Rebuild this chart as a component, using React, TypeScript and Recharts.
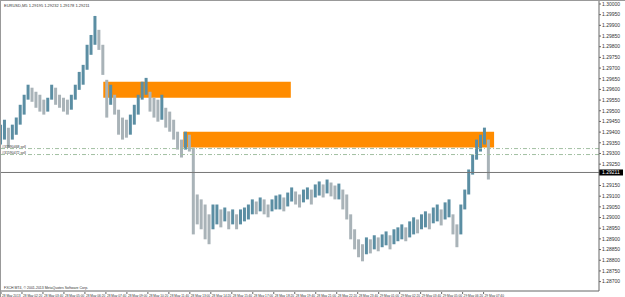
import {
  ComposedChart,
  Bar,
  Cell,
  XAxis,
  YAxis,
  ReferenceArea,
  ReferenceLine,
} from "recharts";

// 15-minute slots (every 3 M5 bars), high / low
const highs = [
  1.29435, 1.29458, 1.29421, 1.29435, 1.29468, 1.29528, 1.29575, 1.29622, 1.29608, 1.29589,
  1.29575, 1.29552, 1.29561, 1.29622, 1.29608, 1.29575, 1.29561, 1.29552, 1.29575, 1.29622,
  1.29682, 1.29715, 1.29809, 1.29855, 1.29944, 1.29879, 1.29809, 1.29645, 1.29622, 1.29575,
  1.29505, 1.29468, 1.29458, 1.29482, 1.29528, 1.29575, 1.29636, 1.29654, 1.29589, 1.29561,
  1.29552, 1.29575, 1.29514, 1.29496, 1.29458, 1.29402, 1.29365, 1.29402, 1.29388, 1.29328,
  1.29108, 1.29085, 1.29061, 1.29015, 1.29061, 1.29061, 1.29038, 1.29047, 1.29029, 1.29038,
  1.29015, 1.29038, 1.29047, 1.29061, 1.29085, 1.29075, 1.29094, 1.29085, 1.29061, 1.29085,
  1.29103, 1.29108, 1.29094, 1.29117, 1.29141, 1.29122, 1.29108, 1.29131, 1.29141, 1.29131,
  1.29155, 1.29169, 1.29155, 1.29178, 1.29164, 1.29150, 1.29159, 1.29131, 1.29108, 1.29015,
  1.28945, 1.28898, 1.28875, 1.28907, 1.28898, 1.28917, 1.28907, 1.28921, 1.28935, 1.28917,
  1.28945, 1.28954, 1.28968, 1.28954, 1.28982, 1.29001, 1.28991, 1.29015, 1.29029, 1.29019,
  1.29047, 1.29061, 1.29038, 1.29071, 1.29085, 1.29015, 1.28968, 1.29061, 1.29131, 1.29225,
  1.29295, 1.29365, 1.29388, 1.29421, 1.29365,
];
const lows = [
  1.29342, 1.29365, 1.29328, 1.29365, 1.29388, 1.29435, 1.29482, 1.29552, 1.29542, 1.29514,
  1.29496, 1.29482, 1.29496, 1.29552, 1.29528, 1.29514, 1.29496, 1.29482, 1.29505, 1.29552,
  1.29598, 1.29622, 1.29692, 1.29762, 1.29809, 1.29785, 1.29668, 1.29468, 1.29528, 1.29482,
  1.29388, 1.29365, 1.29374, 1.29388, 1.29435, 1.29482, 1.29552, 1.29575, 1.29496, 1.29468,
  1.29449, 1.29458, 1.29421, 1.29402, 1.29365, 1.29318, 1.29281, 1.29318, 1.29309, 1.28921,
  1.28968, 1.28945, 1.28898, 1.28875, 1.28945, 1.28968, 1.28954, 1.28982, 1.28945, 1.28968,
  1.28945, 1.28968, 1.28982, 1.28991, 1.29015, 1.29015, 1.29029, 1.29015, 1.29001, 1.29029,
  1.29038, 1.29038, 1.29029, 1.29052, 1.29075, 1.29061, 1.29047, 1.29071, 1.29085, 1.29061,
  1.29094, 1.29103, 1.29094, 1.29113, 1.29099, 1.29085, 1.29085, 1.29038, 1.28991, 1.28898,
  1.28851, 1.28814, 1.28795, 1.28828, 1.28832, 1.28851, 1.28842, 1.28861, 1.28870, 1.28851,
  1.28875, 1.28889, 1.28898, 1.28889, 1.28907, 1.28921, 1.28926, 1.28945, 1.28954, 1.28945,
  1.28973, 1.28982, 1.28963, 1.28991, 1.29001, 1.28921, 1.28861, 1.28921, 1.29038, 1.29108,
  1.29201, 1.29271, 1.29309, 1.29342, 1.29178,
];

// 1.29200 sits under the bid box, so it is not listed
const priceTicks = [
  1.3, 1.2995, 1.299, 1.2985, 1.298, 1.2975, 1.297, 1.2965, 1.296, 1.2955,
  1.295, 1.2945, 1.294, 1.2935, 1.293, 1.2925, 1.2915, 1.291, 1.2905,
  1.29, 1.2895, 1.289, 1.2885, 1.288, 1.2875, 1.287,
];

const timeLabels = [
  "28 May 2013", "28 May 02:20", "28 May 03:40", "28 May 05:00", "28 May 06:20",
  "28 May 07:40", "28 May 09:00", "28 May 10:20", "28 May 11:40", "28 May 13:00",
  "28 May 14:20", "28 May 15:40", "28 May 17:00", "28 May 18:20", "28 May 19:40",
  "28 May 21:00", "28 May 22:20", "28 May 23:40", "29 May 01:00", "29 May 02:20",
  "29 May 03:40", "29 May 05:00", "29 May 06:20", "29 May 07:40",
];

const zones = [
  { from: 78, to: 221, top: 1.29636, bottom: 1.29561 },
  { from: 139, to: 376, top: 1.29402, bottom: 1.29328 },
];
const orders = [
  { price: 1.29323, label: "#31590468 sell" },
  { price: 1.29295, label: "#31590472 sell" },
];
const bid = 1.29211;

const BARS_PER_SLOT = 3;
const BARS_PER_LABEL = 16;

const data = highs.map((h, i) => {
  const mid = (h + lows[i]) / 2;
  const prev = i > 0 ? (highs[i - 1] + lows[i - 1]) / 2 : mid;
  return { t: i * BARS_PER_SLOT, range: [lows[i], h], up: mid >= prev };
});
const timeTicks = timeLabels.map((_, i) => i * BARS_PER_LABEL);

const font = "Liberation Sans, Arial, sans-serif";

function TimeTick({ x, y, payload }: any) {
  const label = timeLabels[payload.value / BARS_PER_LABEL] ?? "";
  return (
    <g>
      <line x1={x} x2={x} y1={y - 1} y2={y + 1} stroke="#666" />
      <text x={x + 1} y={y + 4} fontSize={3.2} fill="#333" fontFamily={font}>
        {label}
      </text>
    </g>
  );
}

function BidLabel({ viewBox }: any) {
  const x = viewBox.x + viewBox.width;
  return (
    <g>
      <rect x={x} y={viewBox.y - 3} width={24} height={6} fill="#000" />
      <text x={x + 3} y={viewBox.y + 2} fontSize={5} fill="#fff" fontFamily={font}>
        {bid.toFixed(5)}
      </text>
    </g>
  );
}

export default function App() {
  return (
    <div
      style={{
        position: "fixed",
        left: 0,
        top: 0,
        width: 624,
        height: 296,
        background: "#fff",
        borderTop: "1px solid #999",
        borderLeft: "1px solid #999",
        fontFamily: font,
      }}
    >
      <ComposedChart
        width={624}
        height={296}
        data={data}
        margin={{ top: 0, right: 0, left: 0, bottom: 0 }}
      >
        <XAxis
          dataKey="t"
          type="number"
          domain={[0, 456]}
          ticks={timeTicks}
          tick={<TimeTick />}
          tickLine={false}
          tickSize={0}
          axisLine={{ stroke: "#666" }}
          height={6}
          interval={0}
          allowDataOverflow
        />
        <YAxis
          orientation="right"
          type="number"
          domain={[1.28656, 1.30014]}
          ticks={priceTicks}
          interval={0}
          tickFormatter={(v: number) => v.toFixed(5)}
          tick={{ fontSize: 5, fill: "#333", fontFamily: font }}
          tickSize={2}
          tickMargin={1}
          axisLine={{ stroke: "#666" }}
          tickLine={{ stroke: "#666" }}
          width={26}
          allowDataOverflow
        />
        {zones.map((z, i) => (
          <ReferenceArea
            key={i}
            x1={z.from}
            x2={z.to}
            y1={z.bottom}
            y2={z.top}
            fill="#ff8c00"
            fillOpacity={1}
            stroke="none"
          />
        ))}
        {orders.map((o, i) => (
          <ReferenceLine
            key={i}
            y={o.price}
            stroke="#a3bfa3"
            strokeDasharray="4 2 1 2"
            label={{
              value: o.label,
              position: "insideBottomLeft",
              offset: 1,
              fontSize: 3.5,
              fill: "#333",
              fontFamily: font,
            }}
          />
        ))}
        <ReferenceLine y={bid} stroke="#777" label={<BidLabel />} />
        <Bar dataKey="range" barSize={3} isAnimationActive={false}>
          {data.map((d, i) => (
            <Cell key={i} fill={d.up ? "#5b8ea3" : "#a9b3b8"} />
          ))}
        </Bar>
      </ComposedChart>
      <div
        style={{
          position: "absolute",
          left: 3,
          top: 2,
          fontSize: 4,
          color: "#333",
          whiteSpace: "nowrap",
        }}
      >
        EURUSD,M5 1.29195 1.29232 1.29178 1.29211
      </div>
      <div
        style={{
          position: "absolute",
          left: 3,
          top: 285,
          fontSize: 3.5,
          color: "#333",
          whiteSpace: "nowrap",
        }}
      >
        FXCH MT4, © 2001-2013 MetaQuotes Software Corp.
      </div>
    </div>
  );
}
